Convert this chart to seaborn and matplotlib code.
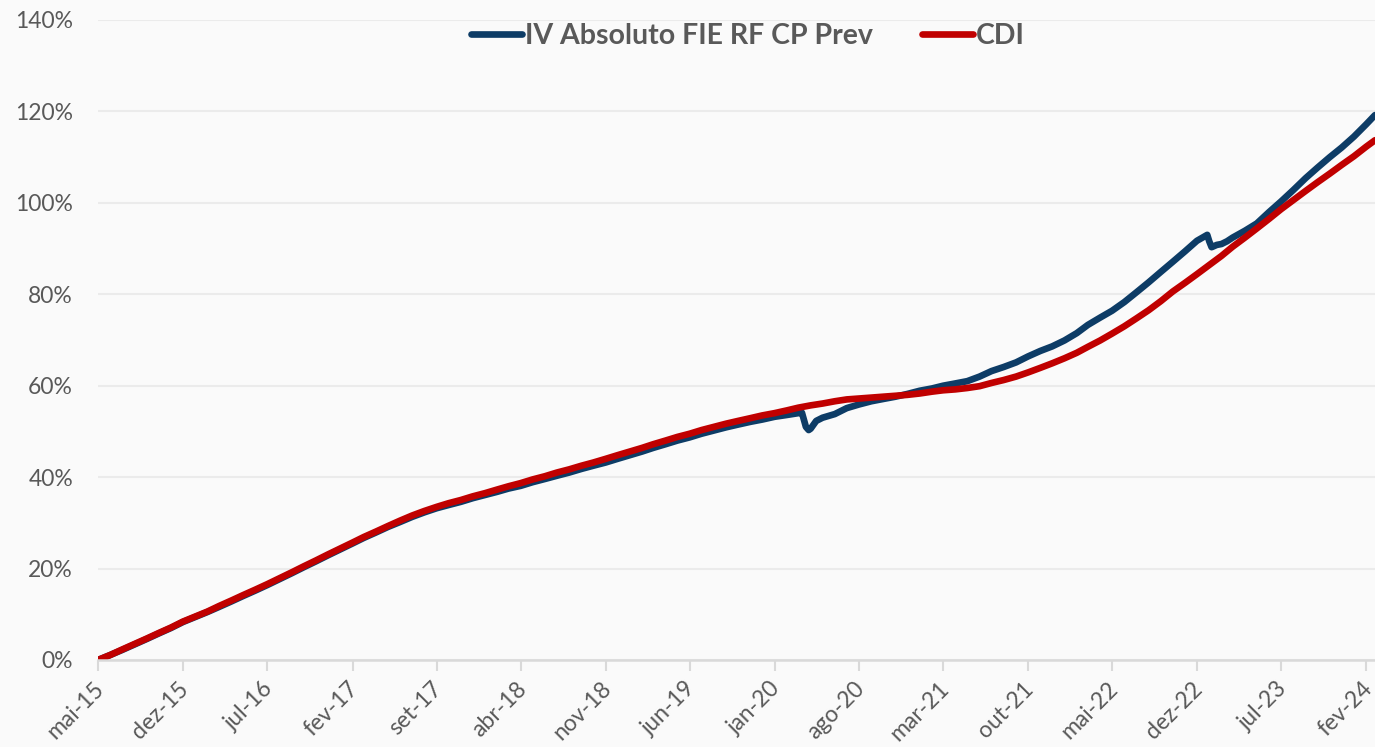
import pandas as pd
import numpy as np
import matplotlib
matplotlib.use('Agg')
import matplotlib.pyplot as plt
import matplotlib.transforms as mtransforms
from matplotlib.lines import Line2D
import seaborn as sns

# Series names
FUND = 'IV Absoluto FIE RF CP Prev'
CDI = 'CDI'

# Monthly points (first day of each month, mai-15 .. fev-24) plus last quote
first_month = '2015-05-01'
n_months = 106
last_date = '2024-02-23'

# Accumulated return (%)
cdi_values = [
    0.0, 1.1, 2.3, 3.5, 4.7, 5.9, 7.1, 8.4, 9.5, 10.6,
    11.8, 13.0, 14.2, 15.4, 16.6, 17.9, 19.2, 20.5, 21.8, 23.1,
    24.4, 25.7, 26.9, 28.1, 29.3, 30.5, 31.6, 32.6, 33.5, 34.3,
    35.0, 35.8, 36.5, 37.3, 38.0, 38.7, 39.5, 40.2, 41.0, 41.7,
    42.5, 43.2, 44.0, 44.8, 45.6, 46.4, 47.2, 48.0, 48.8, 49.5,
    50.3, 51.0, 51.7, 52.3, 52.9, 53.5, 54.0, 54.6, 55.2, 55.7,
    56.1, 56.6, 57.0, 57.2, 57.4, 57.6, 57.8, 58.0, 58.3, 58.7,
    59.0, 59.2, 59.5, 59.9, 60.6, 61.25, 62.0, 62.9, 63.9, 64.9,
    66.0, 67.2, 68.5, 69.9, 71.4, 73.0, 74.7, 76.5, 78.5, 80.6,
    82.5, 84.4, 86.4, 88.4, 90.4, 92.4, 94.4, 96.5, 98.6, 100.6,
    102.6, 104.5, 106.4, 108.3, 110.2, 112.3,
]
cdi_last = 113.7

fund_values = [
    0.0, 1.1, 2.2, 3.4, 4.6, 5.8, 7.0, 8.3, 9.4, 10.5,
    11.6, 12.8, 14.0, 15.2, 16.4, 17.7, 19.0, 20.3, 21.6, 22.9,
    24.2, 25.5, 26.7, 27.9, 29.1, 30.2, 31.3, 32.3, 33.2, 33.9,
    34.6, 35.4, 36.1, 36.8, 37.5, 38.1, 38.9, 39.6, 40.3, 41.0,
    41.8, 42.5, 43.2, 44.0, 44.8, 45.6, 46.4, 47.2, 48.0, 48.7,
    49.5, 50.2, 50.9, 51.5, 52.1, 52.6, 53.2, 53.6, 54.0, 50.6,
    53.0, 53.8, 55.1, 55.9, 56.6, 57.1, 57.6, 58.2, 58.9, 59.4,
    60.0, 60.5, 61.0, 62.0, 63.2, 64.1, 65.1, 66.4, 67.6, 68.6,
    69.9, 71.5, 73.3, 74.9, 76.4, 78.3, 80.4, 82.6, 84.9, 87.1,
    89.4, 91.7, 91.6, 91.0, 92.4, 93.9, 95.5, 98.0, 100.3, 102.8,
    105.4, 107.7, 110.0, 112.1, 114.5, 117.2,
]
fund_last = 119.2

# Intra-month quotes around the two drawdowns (mar-20 and jan-23)
fund_extra_dates = ['2020-03-10', '2020-03-20', '2020-03-27', '2020-04-15',
                    '2022-12-27', '2023-01-07', '2023-01-20', '2023-02-15']
fund_extra_values = [54.1, 51.0, 50.3, 52.3,
                     93.0, 90.3, 90.8, 91.6]

tick_labels = ['mai-15', 'dez-15', 'jul-16', 'fev-17', 'set-17', 'abr-18',
               'nov-18', 'jun-19', 'jan-20', 'ago-20', 'mar-21', 'out-21',
               'mai-22', 'dez-22', 'jul-23', 'fev-24']
y_ticks = [0, 20, 40, 60, 80, 100, 120, 140]

colors = {FUND: '#0d3c66', CDI: '#c00000'}

# Build long table
months = pd.date_range(first_month, periods=n_months, freq='MS')
cdi_df = pd.DataFrame({
    'date': list(months) + [pd.Timestamp(last_date)],
    'value': cdi_values + [cdi_last],
    'serie': CDI,
})
fund_df = pd.DataFrame({
    'date': list(months) + [pd.Timestamp(last_date)] + list(pd.to_datetime(fund_extra_dates)),
    'value': fund_values + [fund_last] + fund_extra_values,
    'serie': FUND,
})
df = pd.concat([fund_df, cdi_df], ignore_index=True).sort_values(['serie', 'date'])

sns.set_theme(style='white')
plt.rcParams['font.family'] = ['Lato', 'DejaVu Sans']

bg = '#fafafa'
fig = plt.figure(figsize=(13.75, 7.47), dpi=100, facecolor=bg)
ax = fig.add_axes([98 / 1375, 1 - 660 / 747, 1 - 98 / 1375, 640 / 747])
ax.set_facecolor(bg)

sns.lineplot(data=df, x='date', y='value', hue='serie', hue_order=[FUND, CDI],
             palette=colors, linewidth=4.8, estimator=None, sort=True,
             legend=False, ax=ax)
for line in ax.lines:
    line.set_solid_capstyle('round')
    line.set_solid_joinstyle('round')

# Axes
ax.set_xlim(pd.Timestamp(first_month), pd.Timestamp(last_date))
ax.set_ylim(0, 140)
ax.set_xlabel('')
ax.set_ylabel('')

tick_dates = pd.date_range(first_month, periods=len(tick_labels), freq='7MS')
ax.set_xticks(tick_dates)
ax.set_xticklabels(tick_labels, rotation=45, ha='right', rotation_mode='anchor')
ax.set_yticks(y_ticks)
ax.set_yticklabels([f'{v}%' for v in y_ticks])

ax.tick_params(axis='x', which='major', bottom=True, length=8, width=1.5,
               color='#d9d9d9', pad=5, labelsize=16.5, labelcolor='#595959')
ax.tick_params(axis='y', length=0, pad=18, labelsize=16.5, labelcolor='#595959')

# nudge the rotated month labels a little to the left so the last one fits
shift = mtransforms.ScaledTranslation(-5 / 100, 0, fig.dpi_scale_trans)
for lbl in ax.get_xticklabels():
    lbl.set_transform(lbl.get_transform() + shift)

ax.grid(axis='y', color='#ebebeb', linewidth=1.5)
ax.grid(axis='x', visible=False)
for side in ['top', 'right', 'left']:
    ax.spines[side].set_visible(False)
ax.spines['bottom'].set_color('#d9d9d9')
ax.spines['bottom'].set_linewidth(1.8)
ax.set_axisbelow(True)

# Legend
handles = [Line2D([0], [0], color=colors[FUND], lw=4.8, solid_capstyle='round'),
           Line2D([0], [0], color=colors[CDI], lw=4.8, solid_capstyle='round')]
leg = ax.legend(handles, [FUND, CDI], loc='center', bbox_to_anchor=(0.509, 0.975),
                ncol=2, frameon=False, handlelength=1.8, handletextpad=0.12,
                columnspacing=1.7, prop={'weight': 'bold', 'size': 20.5})
for txt in leg.get_texts():
    txt.set_color('#595959')

fig.savefig('out.png', dpi=100, facecolor=bg)
